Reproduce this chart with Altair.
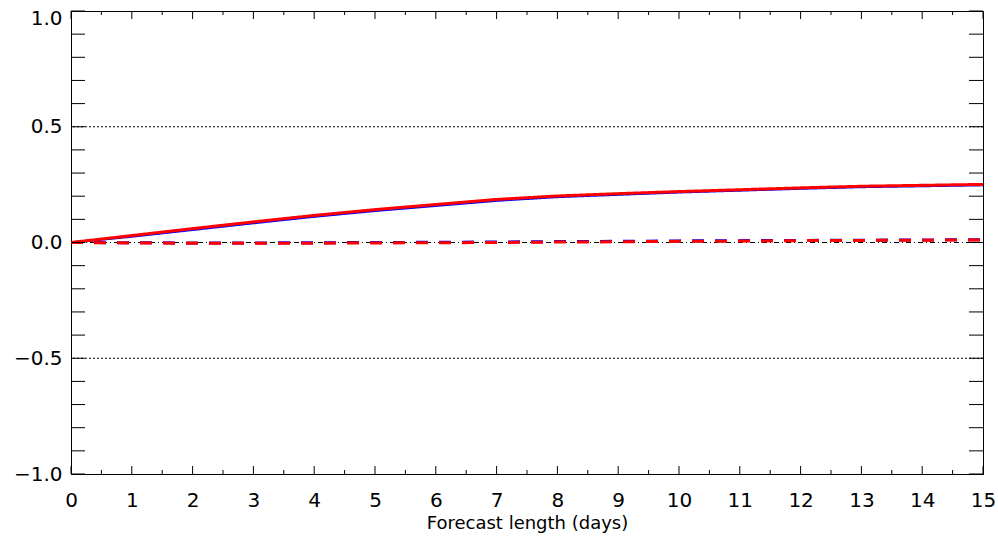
import altair as alt
import pandas as pd

# ---- data ----
days = list(range(16))
red_solid = [0.000, 0.030, 0.060, 0.089, 0.117, 0.142, 0.164, 0.186, 0.201, 0.211, 0.220, 0.228, 0.236, 0.243, 0.247, 0.251]
blue_solid = [0.000, 0.026, 0.055, 0.084, 0.112, 0.137, 0.159, 0.181, 0.197, 0.207, 0.217, 0.225, 0.233, 0.240, 0.244, 0.248]
red_dash = [0.000, -0.002, -0.003, -0.003, -0.003, -0.002, -0.001, 0.000, 0.002, 0.003, 0.005, 0.006, 0.008, 0.009, 0.010, 0.011]
blue_dash = [0.000, -0.001, -0.002, -0.002, -0.001, 0.000, 0.001, 0.002, 0.004, 0.005, 0.007, 0.008, 0.009, 0.010, 0.011, 0.012]

x_major = list(range(16))
x_minor = [d + 0.5 for d in range(15)]
y_ticks = [round(-1.0 + 0.1 * i, 1) for i in range(21)]
y_labels = [-1.0, -0.5, 0.0, 0.5, 1.0]
ref_dotted = [0.5, -0.5]
ref_dashdot = [0.0]

W, H = 912, 463
FONT = "DejaVu Sans"

xs = alt.Scale(domain=[0, 15], nice=False, zero=False)
ys = alt.Scale(domain=[-1, 1], nice=False, zero=False)

x_axis = alt.Axis(values=x_major, format="d", title="Forecast length (days)",
                  ticks=False, grid=False, labelPadding=16, titlePadding=4,
                  labelFlush=False)
y_axis = alt.Axis(values=y_labels, format=".1f", title=None,
                  ticks=False, grid=False, labelPadding=9, labelFlush=False,
                  labelOffset={"condition": {"test": "datum.value == 1", "value": 7},
                               "value": 0})

X = alt.X("day:Q", scale=xs, axis=x_axis)
Y = alt.Y("value:Q", scale=ys, axis=y_axis)


def series_df(vals):
    return pd.DataFrame({"day": days, "value": vals})


layers = []

# reference lines
layers.append(
    alt.Chart(pd.DataFrame({"value": ref_dotted}))
    .mark_rule(color="black", strokeWidth=1, strokeDash=[2, 2])
    .encode(y=Y)
)
layers.append(
    alt.Chart(pd.DataFrame({"value": ref_dashdot}))
    .mark_rule(color="black", strokeWidth=1, strokeDash=[5, 3, 1, 3])
    .encode(y=Y)
)

# data lines
for vals, col, dash, sw in [
    (blue_solid, "#0000ff", [1, 0], 2.5),
    (red_solid, "#ff0000", [1, 0], 3),
    (blue_dash, "#0000ff", [12, 11], 3),
    (red_dash, "#ff0000", [12, 11], 3),
]:
    layers.append(
        alt.Chart(series_df(vals))
        .mark_line(color=col, strokeWidth=sw, strokeDash=dash)
        .encode(x=X, y=Y)
    )

# inward tick marks
xmaj_df = pd.DataFrame({"day": x_major})
xmin_df = pd.DataFrame({"day": x_minor})
ytk_df = pd.DataFrame({"value": y_ticks})

for dfx, ln in [(xmaj_df, 8), (xmin_df, 4)]:
    layers.append(alt.Chart(dfx).mark_rule(color="black", strokeWidth=1).encode(
        x=X, y=alt.value(H), y2=alt.value(H - ln)))
    layers.append(alt.Chart(dfx).mark_rule(color="black", strokeWidth=1).encode(
        x=X, y=alt.value(0), y2=alt.value(ln)))

layers.append(alt.Chart(ytk_df).mark_rule(color="black", strokeWidth=1).encode(
    y=Y, x=alt.value(0), x2=alt.value(14)))
layers.append(alt.Chart(ytk_df).mark_rule(color="black", strokeWidth=1).encode(
    y=Y, x=alt.value(W), x2=alt.value(W - 14)))

chart = (
    alt.layer(*layers)
    .properties(
        width=W, height=H,
        autosize=alt.AutoSizeParams(type="none"),
        padding={"left": 71, "top": 11, "right": 15, "bottom": 68},
        background="white",
    )
    .configure_view(stroke="black", strokeWidth=1)
    .configure_axis(
        domainColor="black", domainWidth=1,
        labelFont=FONT, labelFontSize=20, labelColor="black",
        titleFont=FONT, titleFontSize=18, titleFontWeight="normal", titleColor="black",
    )
)

chart.save("out.html", embed_options={"renderer": "svg", "actions": False})
